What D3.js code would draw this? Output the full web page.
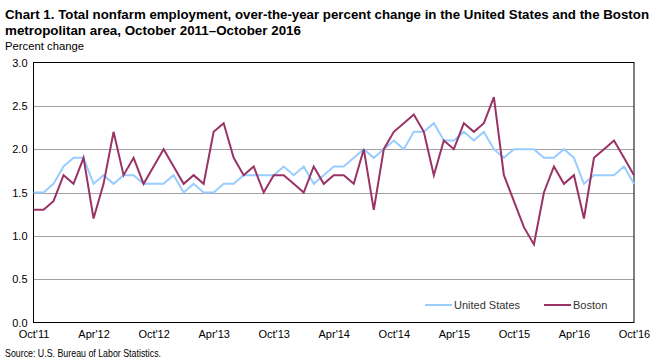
<!DOCTYPE html>
<html><head><meta charset="utf-8">
<script src="https://cdn.jsdelivr.net/npm/d3@7"></script>
<style>body{margin:0;background:#fff;} svg{display:block;font-family:"Liberation Sans",Arial,sans-serif;}</style>
</head><body><svg id="c" width="664" height="360"></svg>
<script>
const months = d3.range(61).map(i => new Date(2011, 9 + i, 1));
const tickLabels = ["Oct'11","Apr'12","Oct'12","Apr'13","Oct'13","Apr'14","Oct'14","Apr'15","Oct'15","Apr'16","Oct'16"];
const yTicks = [0.0,0.5,1.0,1.5,2.0,2.5,3.0];
const usValues = [1.5,1.5,1.6,1.8,1.9,1.9,1.6,1.7,1.6,1.7,1.7,1.6,1.6,1.6,1.7,1.5,1.6,1.5,1.5,1.6,
  1.6,1.7,1.7,1.7,1.7,1.8,1.7,1.8,1.6,1.7,1.8,1.8,1.9,2.0,1.9,2.0,2.1,2.0,2.2,2.2,
  2.3,2.1,2.1,2.2,2.1,2.2,2.0,1.9,2.0,2.0,2.0,1.9,1.9,2.0,1.9,1.6,1.7,1.7,1.7,1.8,1.6];
const bostonValues = [1.3,1.3,1.4,1.7,1.6,1.9,1.2,1.6,2.2,1.7,1.9,1.6,1.8,2.0,1.8,1.6,1.7,1.6,2.2,2.3,
  1.9,1.7,1.8,1.5,1.7,1.7,1.6,1.5,1.8,1.6,1.7,1.7,1.6,2.0,1.3,2.0,2.2,2.3,2.4,2.2,
  1.7,2.1,2.0,2.3,2.2,2.3,2.6,1.7,1.4,1.1,0.9,1.5,1.8,1.6,1.7,1.2,1.9,2.0,2.1,1.9,1.7];
const seriesNames = ["United States","Boston"];
const seriesColors = ["#99ccff","#993366"];

const svg = d3.select("#c");
const L = 33.5, R = 634, T = 62.5, B = 322.5;
const x = d3.scaleLinear().domain([0, 60]).range([L, R]);
const y = d3.scaleLinear().domain([0, 3]).range([B, T]);

// title
const title = svg.append("g").attr("font-weight","bold").attr("font-size",13.5).attr("fill","#000");
title.append("text").attr("x",5).attr("y",19).attr("textLength",644).attr("lengthAdjust","spacingAndGlyphs")
  .text("Chart 1. Total nonfarm employment, over-the-year percent change in the United  States and the Boston");
title.append("text").attr("x",5).attr("y",35).attr("textLength",296).attr("lengthAdjust","spacingAndGlyphs")
  .text("metropolitan area, October 2011\u2013October  2016");
svg.append("text").attr("x",5).attr("y",50).attr("font-size",11).attr("textLength",79).attr("lengthAdjust","spacingAndGlyphs").text("Percent change");

// gridlines
svg.append("g").selectAll("line").data(yTicks.filter(v => v > 0 && v < 3)).join("line")
  .attr("x1", L).attr("x2", R).attr("y1", d => Math.round(y(d))+0.5).attr("y2", d => Math.round(y(d))+0.5)
  .attr("stroke","#a0a0a0").attr("stroke-width",1);

// y axis
const yAxis = d3.axisLeft(y).tickValues(yTicks).tickFormat(d3.format(".1f")).tickSize(0).tickPadding(6);
const gy = svg.append("g").attr("transform",`translate(${L},0)`).call(yAxis);
gy.select(".domain").remove();
gy.selectAll("text").attr("font-size",11).attr("font-family","Liberation Sans, Arial, sans-serif").attr("fill","#000");

// x axis
const xAxis = d3.axisBottom(x).tickValues(d3.range(0,61,6)).tickFormat((d,i) => tickLabels[i]).tickSize(0).tickPadding(8);
const gx = svg.append("g").attr("transform",`translate(0,${B})`).call(xAxis);
gx.select(".domain").remove();
gx.selectAll("text").attr("font-size",11).attr("font-family","Liberation Sans, Arial, sans-serif").attr("fill","#000");

// frame
svg.append("rect").attr("x",L).attr("y",T).attr("width",R-L).attr("height",B-T).attr("fill","none").attr("stroke","#000").attr("stroke-width",1);

// lines
const line = d3.line().x((d,i) => x(i)).y(d => y(d));
[usValues, bostonValues].forEach((vals, k) => {
  svg.append("path").datum(vals).attr("d", line).attr("fill","none")
    .attr("stroke", seriesColors[k]).attr("stroke-width", 2).attr("stroke-linejoin","miter");
});

// legend
const legX = [425, 544];
seriesNames.forEach((n,k) => {
  svg.append("line").attr("x1",legX[k]).attr("x2",legX[k]+27).attr("y1",305).attr("y2",305)
    .attr("stroke",seriesColors[k]).attr("stroke-width",2);
  svg.append("text").attr("x",legX[k]+29).attr("y",309).attr("font-size",11).attr("fill","#333").text(n);
});

// source
svg.append("text").attr("x",5).attr("y",357).attr("font-size",11).attr("textLength",156).attr("lengthAdjust","spacingAndGlyphs").text("Source: U.S. Bureau of Labor Statistics.");
</script></body></html>
